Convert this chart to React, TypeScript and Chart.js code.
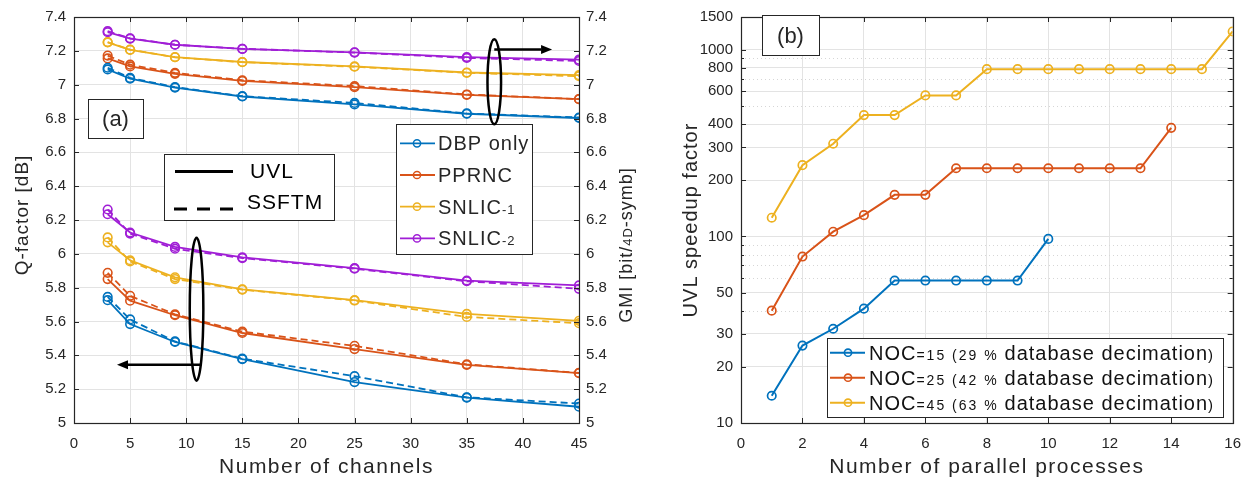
import { useEffect, useRef } from 'react';
import { Chart, registerables } from 'chart.js';

Chart.register(...registerables);

// ---------- Panel (a): performance vs. number of WDM channels ----------
const channels = [3, 5, 9, 15, 25, 35, 45];
const channelTicks = [0, 5, 10, 15, 20, 25, 30, 35, 40, 45];
const levelTicks = [5, 5.2, 5.4, 5.6, 5.8, 6, 6.2, 6.4, 6.6, 6.8, 7, 7.2, 7.4];

// GMI [bit/4D-symb], right axis
const gmiDbpUvl = [7.09, 7.035, 6.982, 6.93, 6.883, 6.828, 6.803];
const gmiDbpSsftm = [7.1, 7.04, 6.986, 6.932, 6.892, 6.83, 6.806];
const gmiPprncUvl = [7.155, 7.108, 7.064, 7.022, 6.985, 6.94, 6.914];
const gmiPprncSsftm = [7.172, 7.118, 7.07, 7.026, 6.992, 6.942, 6.915];
const gmiSnlic1Uvl = [7.25, 7.206, 7.163, 7.134, 7.108, 7.072, 7.056];
const gmiSnlic1Ssftm = [7.252, 7.207, 7.162, 7.133, 7.106, 7.07, 7.05];
const gmiSnlic2Uvl = [7.31, 7.272, 7.236, 7.211, 7.191, 7.163, 7.148];
const gmiSnlic2Ssftm = [7.316, 7.274, 7.236, 7.212, 7.19, 7.158, 7.14];

// Q-factor [dB], left axis
const qDbpUvl = [5.726, 5.585, 5.479, 5.377, 5.242, 5.15, 5.096];
const qDbpSsftm = [5.745, 5.612, 5.482, 5.38, 5.277, 5.152, 5.115];
const qPprncUvl = [5.851, 5.723, 5.637, 5.532, 5.437, 5.343, 5.295];
const qPprncSsftm = [5.888, 5.752, 5.642, 5.54, 5.456, 5.347, 5.296];
const qSnlic1Uvl = [6.068, 5.962, 5.861, 5.79, 5.726, 5.645, 5.604];
const qSnlic1Ssftm = [6.097, 5.955, 5.851, 5.788, 5.724, 5.627, 5.59];
const qSnlic2Uvl = [6.234, 6.126, 6.041, 5.979, 5.915, 5.842, 5.813];
const qSnlic2Ssftm = [6.262, 6.12, 6.03, 5.975, 5.912, 5.838, 5.793];

const methodNames = ['DBP only', 'PPRNC', 'SNLIC-1', 'SNLIC-2'];

// ---------- Panel (b): speedup vs. number of parallel processes ----------
const processes = [1, 2, 3, 4, 5, 6, 7, 8, 9, 10, 11, 12, 13, 14, 15, 16];
const processTicks = [0, 2, 4, 6, 8, 10, 12, 14, 16];
const speedupTicks = [10, 20, 30, 50, 100, 200, 300, 400, 600, 800, 1000, 1500];
const speedupMinor = [40, 60, 70, 80, 90, 500, 700, 900];
const noc15Speedup = [14, 26, 32, 41, 58, 58, 58, 58, 58, 97];
const noc25Speedup = [40, 78, 106, 130, 167, 167, 232, 232, 232, 232, 232, 232, 232, 382];
const noc45Speedup = [126, 241, 314, 447, 447, 570, 570, 788, 788, 788, 788, 788, 788, 788, 788, 1255];
const nocNames = [
  'NOC=15 (29 % database decimation)',
  'NOC=25 (42 % database decimation)',
  'NOC=45 (63 % database decimation)',
];

const BLUE = '#0072BD';
const ORANGE = '#D95319';
const YELLOW = '#EDB120';
const PURPLE = '#A01ED6';
const INK = '#262626';
const GRID = '#e3e3e3';
const FONT = "'Liberation Sans', Arial, sans-serif";

type Seg = { t: string; size: number; sp?: number };

function drawSegs(ctx: CanvasRenderingContext2D, x: number, y: number, segs: Seg[], align: 'left' | 'center', spacing = 1) {
  ctx.textAlign = 'left';
  ctx.textBaseline = 'alphabetic';
  const use = (s: Seg) => {
    ctx.font = `${s.size}px ${FONT}`;
    (ctx as any).letterSpacing = `${s.sp ?? spacing}px`;
  };
  let w = 0;
  for (const s of segs) {
    use(s);
    w += ctx.measureText(s.t).width;
  }
  let cx = align === 'center' ? x - w / 2 : x;
  for (const s of segs) {
    use(s);
    ctx.fillText(s.t, cx, y);
    cx += ctx.measureText(s.t).width;
  }
  (ctx as any).letterSpacing = '0px';
}

function drawRotated(ctx: CanvasRenderingContext2D, baseX: number, cy: number, segs: Seg[], spacing = 1) {
  ctx.save();
  ctx.translate(baseX, cy);
  ctx.rotate(-Math.PI / 2);
  drawSegs(ctx, 0, 0, segs, 'center', spacing);
  ctx.restore();
}

function ring(ctx: CanvasRenderingContext2D, x: number, y: number, r: number, color: string, lw = 1.5) {
  ctx.beginPath();
  ctx.arc(x, y, r, 0, Math.PI * 2);
  ctx.strokeStyle = color;
  ctx.lineWidth = lw;
  ctx.stroke();
}

function arrow(ctx: CanvasRenderingContext2D, x1: number, y1: number, x2: number, y2: number) {
  const dir = Math.sign(x2 - x1);
  const head = 11;
  ctx.strokeStyle = '#000';
  ctx.fillStyle = '#000';
  ctx.lineWidth = 2.5;
  ctx.beginPath();
  ctx.moveTo(x1, y1);
  ctx.lineTo(x2 - dir * head, y2);
  ctx.stroke();
  ctx.beginPath();
  ctx.moveTo(x2, y2);
  ctx.lineTo(x2 - dir * head, y2 - 4.5);
  ctx.lineTo(x2 - dir * head, y2 + 4.5);
  ctx.closePath();
  ctx.fill();
}

function box(ctx: CanvasRenderingContext2D, x: number, y: number, w: number, h: number) {
  ctx.fillStyle = '#fff';
  ctx.fillRect(x, y, w, h);
  ctx.strokeStyle = INK;
  ctx.lineWidth = 1;
  ctx.strokeRect(x + 0.5, y + 0.5, w, h);
}

function frame(chart: any, yKey: string, xTicks: number[], yTicks: number[], yMinor: number[] = []) {
  const { ctx, chartArea: a, scales } = chart;
  ctx.save();
  ctx.strokeStyle = INK;
  ctx.lineWidth = 1;
  ctx.beginPath();
  for (const v of xTicks) {
    const p = Math.round(scales.x.getPixelForValue(v)) + 0.5;
    ctx.moveTo(p, a.bottom); ctx.lineTo(p, a.bottom - 5);
    ctx.moveTo(p, a.top); ctx.lineTo(p, a.top + 5);
  }
  for (const v of yTicks) {
    const p = Math.round(scales[yKey].getPixelForValue(v)) + 0.5;
    ctx.moveTo(a.left, p); ctx.lineTo(a.left + 5, p);
    ctx.moveTo(a.right, p); ctx.lineTo(a.right - 5, p);
  }
  for (const v of yMinor) {
    const p = Math.round(scales[yKey].getPixelForValue(v)) + 0.5;
    ctx.moveTo(a.left, p); ctx.lineTo(a.left + 3, p);
    ctx.moveTo(a.right, p); ctx.lineTo(a.right - 3, p);
  }
  ctx.stroke();
  ctx.lineWidth = 1.2;
  ctx.strokeRect(Math.round(a.left) + 0.5, Math.round(a.top) + 0.5, Math.round(a.right - a.left), Math.round(a.bottom - a.top));
  ctx.restore();
}

function nameSegs(name: string, big: number, small: number): Seg[] {
  const m = name.match(/^(.*)(-\d)$/);
  if (m) return [{ t: m[1], size: big }, { t: m[2], size: small }];
  return [{ t: name, size: big }];
}

function nocSegs(name: string): Seg[] {
  const m = name.match(/^(NOC)(=\d+ \(\d+ % )(database decimation)(\))$/);
  if (!m) return [{ t: name, size: 19 }];
  return [
    { t: m[1], size: 20, sp: 1 },
    { t: m[2], size: 14, sp: 2 },
    { t: m[3], size: 20, sp: 1 },
    { t: m[4], size: 15, sp: 0 },
  ];
}

const tickFont = { family: FONT, size: 15 };

function fixedTicks(values: number[]) {
  return (s: any) => {
    s.ticks = values.map((value) => ({ value }));
  };
}

function panelAConfig(): any {
  const methods = [
    { color: BLUE, gU: gmiDbpUvl, gS: gmiDbpSsftm, qU: qDbpUvl, qS: qDbpSsftm },
    { color: ORANGE, gU: gmiPprncUvl, gS: gmiPprncSsftm, qU: qPprncUvl, qS: qPprncSsftm },
    { color: YELLOW, gU: gmiSnlic1Uvl, gS: gmiSnlic1Ssftm, qU: qSnlic1Uvl, qS: qSnlic1Ssftm },
    { color: PURPLE, gU: gmiSnlic2Uvl, gS: gmiSnlic2Ssftm, qU: qSnlic2Uvl, qS: qSnlic2Ssftm },
  ];
  const datasets: any[] = [];
  methods.forEach((m, k) => {
    const variants = [
      { vals: m.qU, axis: 'y', dash: [], tag: 'Q-factor UVL' },
      { vals: m.qS, axis: 'y', dash: [7, 4], tag: 'Q-factor SSFTM' },
      { vals: m.gU, axis: 'y2', dash: [], tag: 'GMI UVL' },
      { vals: m.gS, axis: 'y2', dash: [7, 4], tag: 'GMI SSFTM' },
    ];
    for (const v of variants) {
      datasets.push({
        label: `${methodNames[k]} ${v.tag}`,
        data: channels.map((c, i) => ({ x: c, y: v.vals[i] })),
        yAxisID: v.axis,
        borderColor: m.color,
        backgroundColor: m.color,
        borderWidth: 1.8,
        borderDash: v.dash,
        pointRadius: 4.3,
        pointHoverRadius: 4.3,
        pointBorderWidth: 1.6,
        pointBorderColor: m.color,
        pointBackgroundColor: 'rgba(0,0,0,0)',
        tension: 0,
        fill: false,
      });
    }
  });

  const overlay = {
    id: 'panelAOverlay',
    afterDraw(chart: any) {
      const { ctx, scales } = chart;
      const X = (v: number) => scales.x.getPixelForValue(v);
      const Y = (v: number) => scales.y.getPixelForValue(v);
      frame(chart, 'y', channelTicks, levelTicks);
      ctx.save();
      ctx.fillStyle = INK;
      // axis titles
      drawSegs(ctx, (chart.chartArea.left + chart.chartArea.right) / 2, 473, [{ t: 'Number of channels', size: 21 }], 'center', 1.5);
      drawRotated(ctx, 28, 215, [{ t: 'Q-factor [dB]', size: 19 }], 1);
      drawRotated(ctx, 632, 245, [
        { t: 'GMI [bit/', size: 18 },
        { t: '4D', size: 13 },
        { t: '-symb]', size: 18 },
      ], 1);

      // (a) label
      box(ctx, 88, 99, 55, 39);
      ctx.fillStyle = INK;
      drawSegs(ctx, 115.5, 126, [{ t: '(a)', size: 22 }], 'center', 0);

      // line-style key
      box(ctx, 164, 154, 170, 66);
      ctx.strokeStyle = '#000';
      ctx.lineWidth = 3.2;
      ctx.beginPath();
      ctx.moveTo(175, 171.5); ctx.lineTo(233, 171.5);
      ctx.stroke();
      ctx.setLineDash([13, 10]);
      ctx.beginPath();
      ctx.moveTo(174, 209); ctx.lineTo(233, 209);
      ctx.stroke();
      ctx.setLineDash([]);
      ctx.fillStyle = '#000';
      drawSegs(ctx, 250, 178, [{ t: 'UVL', size: 21 }], 'left', 1);
      drawSegs(ctx, 247, 209, [{ t: 'SSFTM', size: 21 }], 'left', 1);

      // method legend
      box(ctx, 396, 124, 136, 130);
      const colors = [BLUE, ORANGE, YELLOW, PURPLE];
      methodNames.forEach((name, i) => {
        const y = 143.3 + i * 31.7;
        ctx.strokeStyle = colors[i];
        ctx.lineWidth = 1.8;
        ctx.beginPath();
        ctx.moveTo(400, y); ctx.lineTo(435, y);
        ctx.stroke();
        ring(ctx, 417, y, 3.6, colors[i], 1.5);
        ctx.fillStyle = INK;
        drawSegs(ctx, 438, y + 7, nameSegs(name, 20, 13), 'left', 1);
      });

      // ellipses marking which axis each group of curves uses
      ctx.strokeStyle = '#000';
      ctx.lineWidth = 2.5;
      ctx.beginPath();
      ctx.ellipse(X(37.45), Y(7.017), 6.8, 42.5, 0, 0, Math.PI * 2);
      ctx.stroke();
      arrow(ctx, X(37.45), Y(7.208), X(42.6), Y(7.208));
      ctx.strokeStyle = '#000';
      ctx.lineWidth = 2.5;
      ctx.beginPath();
      ctx.ellipse(X(10.92), Y(5.673), 6.8, 71.5, 0, 0, Math.PI * 2);
      ctx.stroke();
      arrow(ctx, X(11.3), Y(5.344), X(3.83), Y(5.344));
      ctx.restore();
    },
  };

  return {
    type: 'line',
    data: { datasets },
    plugins: [overlay],
    options: {
      responsive: false,
      animation: false,
      events: [],
      layout: { padding: { top: 10, left: 0, right: 0, bottom: 0 } },
      plugins: { legend: { display: false }, tooltip: { enabled: false } },
      scales: {
        x: {
          type: 'linear',
          min: 0,
          max: 45,
          afterBuildTicks: fixedTicks(channelTicks),
          afterFit: (s: any) => { s.height = 60; },
          ticks: { font: tickFont, color: INK, padding: 12, autoSkip: false, maxRotation: 0, callback: (v: any) => String(v) },
          grid: { color: GRID, drawTicks: false },
          border: { display: false },
        },
        y: {
          type: 'linear',
          position: 'left',
          min: 5,
          max: 7.4,
          afterBuildTicks: fixedTicks(levelTicks),
          afterFit: (s: any) => { s.width = 74; },
          ticks: { font: tickFont, color: INK, padding: 8, autoSkip: false, callback: (v: any) => String(v) },
          grid: { color: GRID, drawTicks: false },
          border: { display: false },
        },
        y2: {
          type: 'linear',
          position: 'right',
          min: 5,
          max: 7.4,
          afterBuildTicks: fixedTicks(levelTicks),
          afterFit: (s: any) => { s.width = 61; },
          ticks: { font: tickFont, color: INK, padding: 7, autoSkip: false, callback: (v: any) => String(v) },
          grid: { display: false, drawTicks: false },
          border: { display: false },
        },
      },
    },
  };
}

function panelBConfig(): any {
  const series = [
    { vals: noc15Speedup, color: BLUE },
    { vals: noc25Speedup, color: ORANGE },
    { vals: noc45Speedup, color: YELLOW },
  ];
  const datasets = series.map((s, k) => ({
    label: nocNames[k],
    data: s.vals.map((v, i) => ({ x: processes[i], y: v })),
    borderColor: s.color,
    backgroundColor: s.color,
    borderWidth: 2,
    pointRadius: 4.2,
    pointHoverRadius: 4.2,
    pointBorderWidth: 1.7,
    pointBorderColor: s.color,
    pointBackgroundColor: 'rgba(0,0,0,0)',
    tension: 0,
    fill: false,
  }));

  const minorGrid = {
    id: 'panelBMinorGrid',
    beforeDatasetsDraw(chart: any) {
      const { ctx, chartArea: a, scales } = chart;
      ctx.save();
      ctx.strokeStyle = '#d6d6d6';
      ctx.lineWidth = 1;
      ctx.setLineDash([1, 3]);
      ctx.beginPath();
      for (const v of speedupMinor) {
        const p = Math.round(scales.y.getPixelForValue(v)) + 0.5;
        ctx.moveTo(a.left, p); ctx.lineTo(a.right, p);
      }
      ctx.stroke();
      ctx.restore();
    },
  };

  const overlay = {
    id: 'panelBOverlay',
    afterDraw(chart: any) {
      const { ctx } = chart;
      frame(chart, 'y', processTicks, speedupTicks, speedupMinor);
      ctx.save();
      ctx.fillStyle = INK;
      drawSegs(ctx, (chart.chartArea.left + chart.chartArea.right) / 2, 473, [{ t: 'Number of parallel processes', size: 21 }], 'center', 1.5);
      drawRotated(ctx, 57, 220, [{ t: 'UVL speedup factor', size: 20 }], 1);

      // (b) label
      box(ctx, 122, 15, 57, 40);
      ctx.fillStyle = INK;
      drawSegs(ctx, 150.5, 43, [{ t: '(b)', size: 22 }], 'center', 0);

      // legend
      box(ctx, 187, 338, 396, 79);
      const colors = [BLUE, ORANGE, YELLOW];
      nocNames.forEach((name, i) => {
        const y = 352.7 + i * 25;
        ctx.strokeStyle = colors[i];
        ctx.lineWidth = 2;
        ctx.beginPath();
        ctx.moveTo(190, y); ctx.lineTo(225, y);
        ctx.stroke();
        ring(ctx, 208, y, 3.6, colors[i], 1.6);
        ctx.fillStyle = '#111';
        drawSegs(ctx, 229, y + 7, nocSegs(name), 'left', 1);
      });
      ctx.restore();
    },
  };

  return {
    type: 'line',
    data: { datasets },
    plugins: [minorGrid, overlay],
    options: {
      responsive: false,
      animation: false,
      events: [],
      layout: { padding: { top: 10, left: 0, right: 18, bottom: 0 } },
      plugins: { legend: { display: false }, tooltip: { enabled: false } },
      scales: {
        x: {
          type: 'linear',
          min: 0,
          max: 16,
          afterBuildTicks: fixedTicks(processTicks),
          afterFit: (s: any) => { s.height = 60; },
          ticks: { font: tickFont, color: INK, padding: 12, autoSkip: false, maxRotation: 0, callback: (v: any) => String(v) },
          grid: { color: GRID, drawTicks: false },
          border: { display: false },
        },
        y: {
          type: 'logarithmic',
          min: 10,
          max: 1500,
          afterBuildTicks: fixedTicks(speedupTicks),
          afterFit: (s: any) => { s.width = 101; },
          ticks: { font: tickFont, color: INK, padding: 8, autoSkip: false, callback: (v: any) => String(v) },
          grid: { color: GRID, drawTicks: false },
          border: { display: false },
        },
      },
    },
  };
}

export default function App() {
  const leftRef = useRef<HTMLCanvasElement>(null);
  const rightRef = useRef<HTMLCanvasElement>(null);

  useEffect(() => {
    const a = new Chart(leftRef.current as HTMLCanvasElement, panelAConfig());
    const b = new Chart(rightRef.current as HTMLCanvasElement, panelBConfig());
    return () => {
      a.destroy();
      b.destroy();
    };
  }, []);

  return (
    <div style={{ position: 'absolute', left: 0, top: 0, width: 1253, height: 483, background: '#fff' }}>
      <canvas ref={leftRef} width={640} height={483} style={{ position: 'absolute', left: 0, top: 0, width: 640, height: 483 }} />
      <canvas ref={rightRef} width={613} height={483} style={{ position: 'absolute', left: 640, top: 0, width: 613, height: 483 }} />
    </div>
  );
}
